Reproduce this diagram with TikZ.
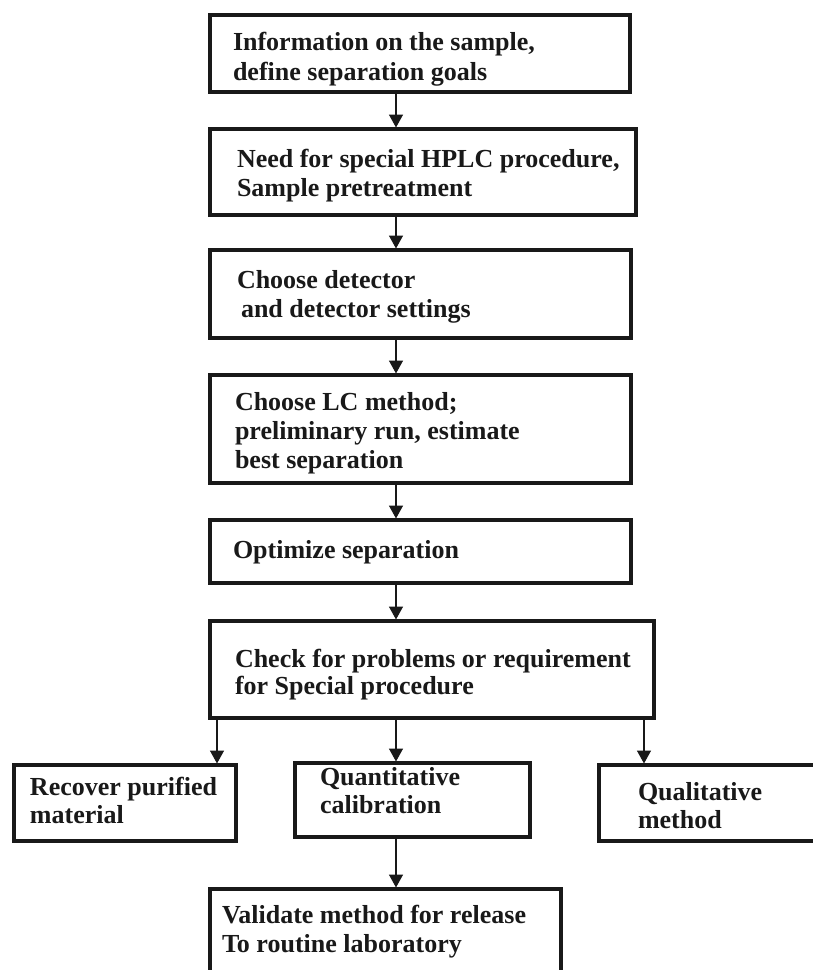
\documentclass[tikz,border=0pt]{standalone}
\usepackage{fontspec}
\setmainfont{Liberation Serif}
\usetikzlibrary{arrows.meta}
\begin{document}
\begin{tikzpicture}[x=1pt,y=-1pt,
  box/.style={draw=black!90, line width=4pt, inner sep=0pt, outer sep=0pt},
  txt/.style={anchor=base west, inner sep=0pt, outer sep=0pt,
              font=\fontsize{26}{29}\selectfont\bfseries, text=black!90},
  arr/.style={-{Triangle[width=14pt,length=13pt]}, line width=1.5pt,
              draw=black!90, shorten >=1.5pt}]
\useasboundingbox (0,0) rectangle (813,970);
\clip (0,0) rectangle (813,970);
\fill[white] (0,0) rectangle (813,970);

\coordinate (axl) at (217,0);
\coordinate (axm) at (396,0);
\coordinate (axr) at (644,0);

% main column
\node[box, minimum width=420pt, minimum height=77pt] (b1) at (420,53.5) {};
\node[txt] (t1) at (233,50) {\vtop{\baselineskip=30pt\hbox{Information on the sample,}\hbox{define separation goals}}};

\node[box, minimum width=426pt, minimum height=86pt] (b2) at (423,172) {};
\node[txt] (t2) at (237,167) {\vtop{\baselineskip=29pt\hbox{Need for special HPLC procedure,}\hbox{Sample pretreatment}}};

\node[box, minimum width=421pt, minimum height=88pt] (b3) at (420.5,294) {};
\node[txt] (t3) at (237,288) {\vtop{\baselineskip=29pt\hbox{Choose detector}\hbox{\hspace{4pt}and detector settings}}};

\node[box, minimum width=421pt, minimum height=108pt] (b4) at (420.5,429) {};
\node[txt] (t4) at (235,410) {\vtop{\baselineskip=29pt\hbox{Choose LC method;}\hbox{preliminary run, estimate}\hbox{best separation}}};

\node[box, minimum width=421pt, minimum height=63pt] (b5) at (420.5,551.5) {};
\node[txt] (t5) at (233,558) {Optimize separation};

\node[box, minimum width=444pt, minimum height=97pt] (b6) at (432,669.5) {};
\node[txt] (t6) at (235,667) {\vtop{\baselineskip=27pt\hbox{Check for problems or requirement}\hbox{for Special procedure}}};

% bottom row
\node[box, minimum width=222pt, minimum height=76pt] (br) at (125,803) {};
\node[txt] (tr) at (30,795) {\vtop{\baselineskip=28pt\hbox{Recover purified}\hbox{material}}};

\node[box, minimum width=235pt, minimum height=74pt] (bq) at (412.5,800) {};
\node[txt] (tq) at (320,785) {\vtop{\baselineskip=28pt\hbox{Quantitative}\hbox{calibration}}};

\node[box, minimum width=239pt, minimum height=76pt] (bl) at (718.5,803) {};
\node[txt] (tl) at (638,800) {\vtop{\baselineskip=28pt\hbox{Qualitative}\hbox{method}}};

\node[box, minimum width=351pt, minimum height=109pt] (bv) at (385.5,943.5) {};
\node[txt] (tv) at (222,923) {\vtop{\baselineskip=29pt\hbox{Validate method for release}\hbox{To routine laboratory}}};

% connectors
\draw[arr] (b1.south -| axm) -- (b2.north -| axm);
\draw[arr] (b2.south -| axm) -- (b3.north -| axm);
\draw[arr] (b3.south -| axm) -- (b4.north -| axm);
\draw[arr] (b4.south -| axm) -- (b5.north -| axm);
\draw[arr] (b5.south -| axm) -- (b6.north -| axm);
\draw[arr] (b6.south -| axl) -- (br.north -| axl);
\draw[arr] (b6.south -| axm) -- (bq.north -| axm);
\draw[arr] (b6.south -| axr) -- (bl.north -| axr);
\draw[arr] (bq.south -| axm) -- (bv.north -| axm);
\end{tikzpicture}
\end{document}
